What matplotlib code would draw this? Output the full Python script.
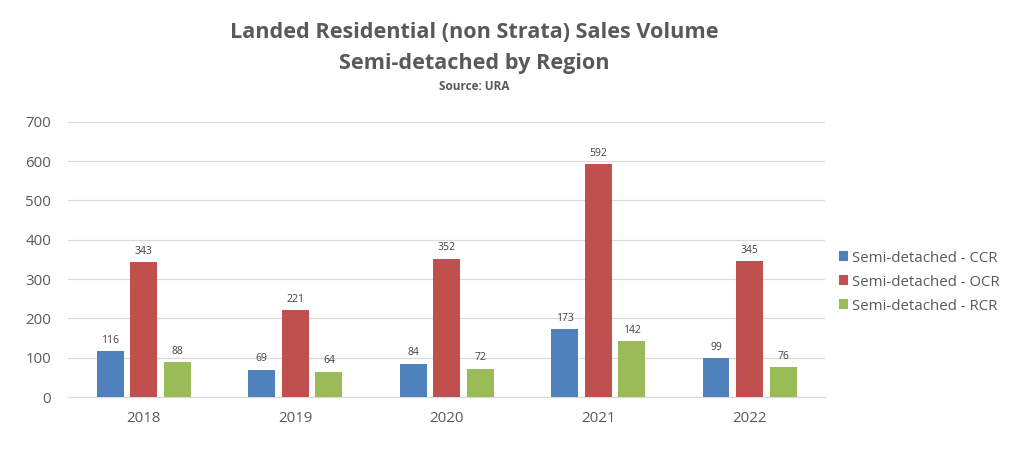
import numpy as np
import matplotlib
matplotlib.use("Agg")
import matplotlib.pyplot as plt

plt.rcParams["font.family"] = ["Open Sans", "DejaVu Sans"]

years = ["2018", "2019", "2020", "2021", "2022"]
series_names = ["Semi-detached - CCR", "Semi-detached - OCR", "Semi-detached - RCR"]
ccr = [116, 69, 84, 173, 99]
ocr = [343, 221, 352, 592, 345]
rcr = [88, 64, 72, 142, 76]
colors = ["#4F81BD", "#C0504D", "#9BBB59"]

TXT = "#595959"

fig = plt.figure(figsize=(10.24, 4.74), dpi=100)
ax = fig.add_axes([0.0664, 0.1624, 0.7396, 0.5806])

x = np.arange(len(years))
width = 0.178
step = 0.222
for i, (vals, name, col) in enumerate(zip([ccr, ocr, rcr], series_names, colors)):
    bars = ax.bar(x + (i - 1) * step, vals, width, color=col, label=name, zorder=3)
    for b, v in zip(bars, vals):
        ax.text(b.get_x() + b.get_width() / 2, v + 14, str(v),
                ha="center", va="bottom", fontsize=7.5, color="#404040")

ax.set_xlim(-0.5, len(years) - 0.5)
ax.set_ylim(0, 700)
ax.set_yticks(range(0, 701, 100))
ax.set_xticks(x)
ax.set_xticklabels(years)
ax.grid(axis="y", color="#D9D9D9", linewidth=0.8, zorder=0)
for s in ["top", "right", "left"]:
    ax.spines[s].set_visible(False)
ax.spines["bottom"].set_color("#D9D9D9")
ax.tick_params(axis="both", length=0, colors=TXT, labelsize=10.8)
ax.tick_params(axis="y", pad=12)
ax.tick_params(axis="x", pad=10)

leg = fig.legend(loc="center left", bbox_to_anchor=(0.806, 0.405), frameon=False,
                 fontsize=10.8, handlelength=0.6, handleheight=0.6, handletextpad=0.25,
                 labelspacing=0.6)
for t in leg.get_texts():
    t.set_color(TXT)

fig.text(0.463, 0.932, "Landed Residential (non Strata) Sales Volume", ha="center",
         va="center", fontsize=15.6, fontweight="bold", color=TXT)
fig.text(0.463, 0.865, "Semi-detached by Region", ha="center",
         va="center", fontsize=15.6, fontweight="bold", color=TXT)
fig.text(0.463, 0.817, "Source: URA", ha="center", va="center",
         fontsize=8.5, fontweight="bold", color=TXT)

fig.savefig("out.png", dpi=100)
